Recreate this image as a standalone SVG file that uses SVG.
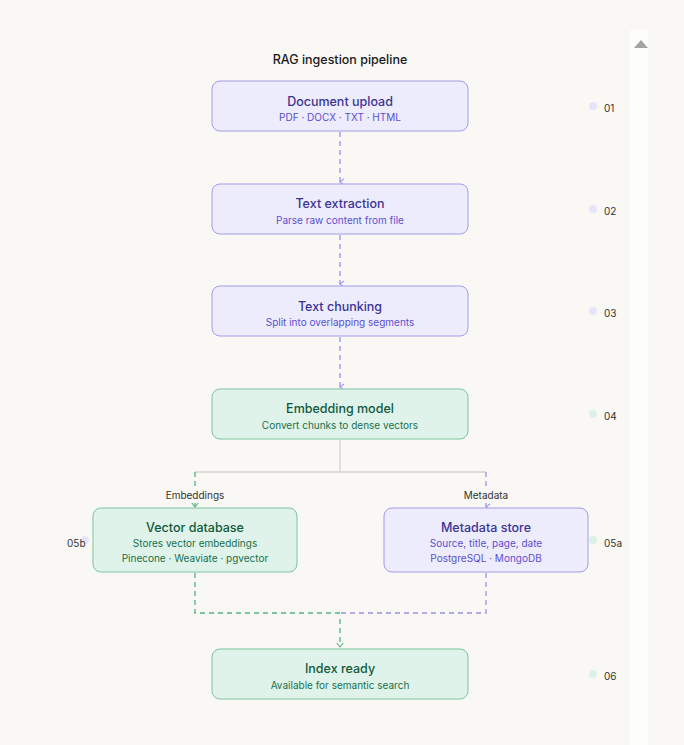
<svg xmlns="http://www.w3.org/2000/svg" width="684" height="745" viewBox="0 0 684 745">
<style>
text{font-family:Inter,"Liberation Sans",sans-serif;text-anchor:middle}
.p rect{fill:#edecfd;stroke:#a19be8;stroke-width:1}
.g rect{fill:#e0f3ea;stroke:#7cc4a0;stroke-width:1}
.t{font-size:12.5px;font-weight:500}
.p .t{fill:#3c3494}.p .s{fill:#5a4fcf}
.g .t{fill:#0f5a3c}.g .s{fill:#17704c}
.s{font-size:10px}
.n{font-size:10px;fill:#333;text-anchor:start}
.dp{fill:#e6e4fb}.dg{fill:#dcf1e6}
.cp{stroke:#9b8ff0;stroke-width:1.3;stroke-dasharray:5 4;fill:none}
.cg{stroke:#4fb285;stroke-width:1.3;stroke-dasharray:5 4;fill:none}
.cs{stroke:#d4d2cd;stroke-width:1.3;fill:none}
.lbl{font-size:10px;fill:#333}
</style>
<defs>
<marker id="ap" viewBox="0 0 10 10" refX="5" refY="8" markerWidth="8" markerHeight="8" orient="auto-start-reverse" markerUnits="userSpaceOnUse"><path d="M1 3 L5 8 L9 3" fill="none" stroke="#9b8ff0" stroke-width="1.3"/></marker>
<marker id="ag" viewBox="0 0 10 10" refX="5" refY="8" markerWidth="8" markerHeight="8" markerUnits="userSpaceOnUse"><path d="M1 3 L5 8 L9 3" fill="none" stroke="#4fb285" stroke-width="1.3"/></marker>
</defs>
<rect width="684" height="745" fill="#f9f8f5"/>
<rect x="630" y="30" width="18" height="715" fill="#fdfdfc"/>
<path d="M634 48 L641 40 L648 48 Z" fill="#a3a3a3"/>
<text x="340" y="64" style="font-size:12.5px;font-weight:500;fill:#1a1a1a">RAG ingestion pipeline</text>
<g id="connectors">
<path class="cp" d="M340 132 V182" marker-end="url(#ap)"/>
<path class="cp" d="M340 235 V284" marker-end="url(#ap)"/>
<path class="cp" d="M340 337 V387" marker-end="url(#ap)"/>
<path class="cs" d="M340 440 V472 M195 472 H486"/>
<path class="cg" d="M195 472 V488"/><path class="cg" d="M195 503 V507" marker-end="url(#ag)"/>
<path class="cp" d="M486 472 V488"/><path class="cp" d="M486 503 V507" marker-end="url(#ap)"/>
<text class="lbl" x="195" y="499">Embeddings</text>
<text class="lbl" x="486" y="499">Metadata</text>
<path class="cg" d="M195 573 V613 H340"/>
<path class="cp" d="M486 573 V613 H340"/>
<path class="cg" d="M340 619 V647" marker-end="url(#ag)"/>
</g>
<g id="n01" class="p"><rect x="212" y="81" width="256" height="50" rx="8"/><text class="t" x="340" y="106">Document upload</text><text class="s" x="340" y="121">PDF · DOCX · TXT · HTML</text><circle class="dp" cx="593" cy="106" r="4"/><text class="n" x="604" y="112">01</text></g>
<g id="n02" class="p"><rect x="212" y="184" width="256" height="50" rx="8"/><text class="t" x="340" y="208">Text extraction</text><text class="s" x="340" y="224">Parse raw content from file</text><circle class="dp" cx="593" cy="209" r="4"/><text class="n" x="604" y="215">02</text></g>
<g id="n03" class="p"><rect x="212" y="286" width="256" height="50" rx="8"/><text class="t" x="340" y="311">Text chunking</text><text class="s" x="340" y="326">Split into overlapping segments</text><circle class="dp" cx="593" cy="311" r="4"/><text class="n" x="604" y="317">03</text></g>
<g id="n04" class="g"><rect x="212" y="389" width="256" height="50" rx="8"/><text class="t" x="340" y="413">Embedding model</text><text class="s" x="340" y="429">Convert chunks to dense vectors</text><circle class="dg" cx="593" cy="414" r="4"/><text class="n" x="604" y="420">04</text></g>
<g id="n05b" class="g"><rect x="93" y="508" width="204" height="64" rx="8"/><text class="t" x="195" y="532">Vector database</text><text class="s" x="195" y="547">Stores vector embeddings</text><text class="s" x="195" y="562">Pinecone · Weaviate · pgvector</text><circle class="dp" cx="85" cy="540" r="4"/><text class="n" x="67" y="547">05b</text></g>
<g id="n05a" class="p"><rect x="384" y="508" width="204" height="64" rx="8"/><text class="t" x="486" y="532">Metadata store</text><text class="s" x="486" y="547">Source, title, page, date</text><text class="s" x="486" y="562">PostgreSQL · MongoDB</text><circle class="dg" cx="593" cy="540" r="4"/><text class="n" x="604" y="547">05a</text></g>
<g id="n06" class="g"><rect x="212" y="649" width="256" height="50" rx="8"/><text class="t" x="340" y="673">Index ready</text><text class="s" x="340" y="689">Available for semantic search</text><circle class="dg" cx="593" cy="674" r="4"/><text class="n" x="604" y="680">06</text></g>
</svg>
